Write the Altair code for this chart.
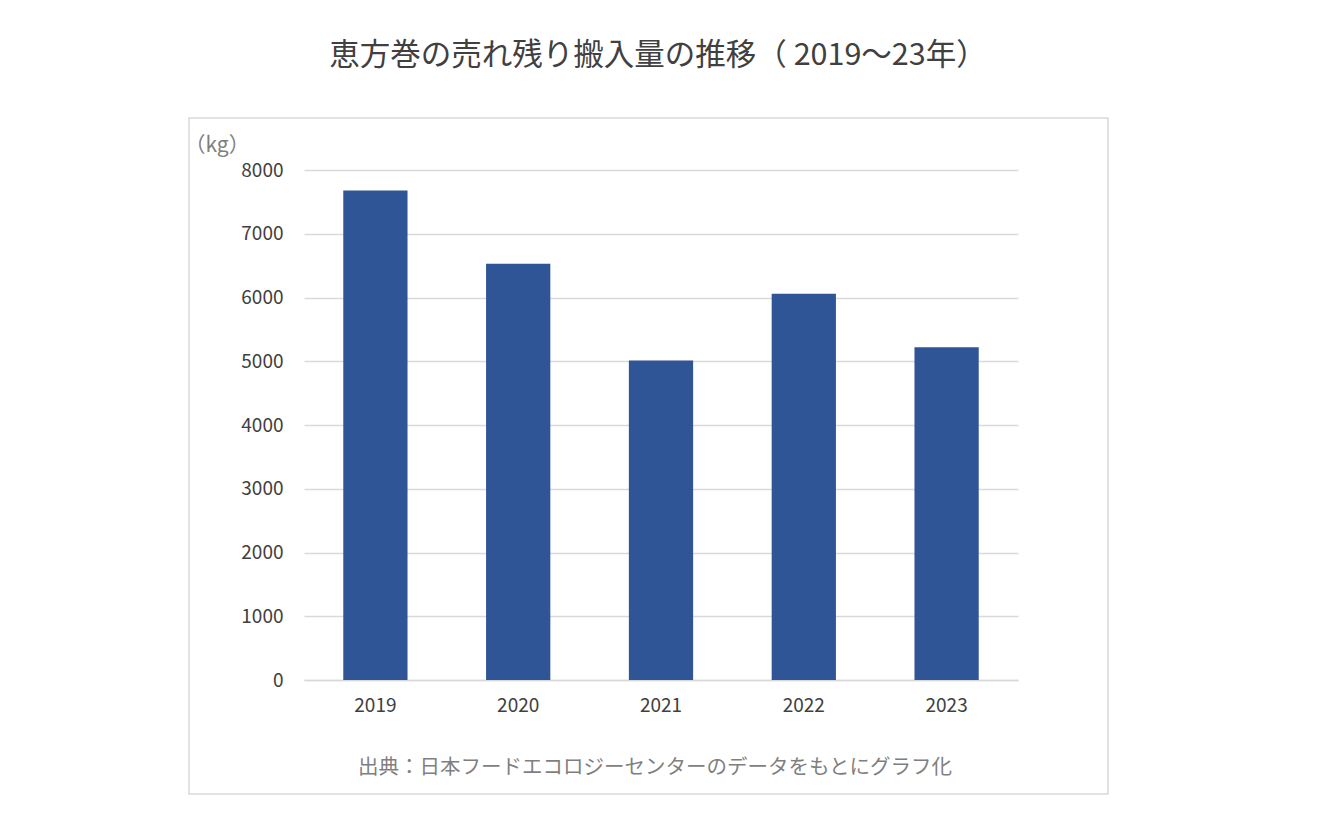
import altair as alt
import pandas as pd

years = ["2019", "2020", "2021", "2022", "2023"]
values = [7680, 6530, 5010, 6060, 5220]
y_ticks = [0, 1000, 2000, 3000, 4000, 5000, 6000, 7000, 8000]
title_text = "恵方巻の売れ残り搬入量の推移（ 2019～23年）"
source_text = "出典：日本フードエコロジーセンターのデータをもとにグラフ化"
unit_text = "（kg）"

FONT = "Noto Sans CJK JP"
df = pd.DataFrame({"year": years, "value": values})

bars = alt.Chart(df).mark_bar(color="#2F5597").encode(
    x=alt.X("year:N", sort=years,
            scale=alt.Scale(paddingInner=0.55, paddingOuter=0.275),
            axis=alt.Axis(title=None, labelAngle=0, ticks=False, domain=True,
                          domainColor="#d9d9d9", domainWidth=1.5,
                          labelFont=FONT, labelFontSize=19, labelColor="#404040",
                          labelPadding=16, grid=False)),
    y=alt.Y("value:Q", scale=alt.Scale(domain=[0, 8000], nice=False),
            axis=alt.Axis(values=y_ticks, format="d", title=unit_text, titleAngle=0,
                          titleAlign="left", titleBaseline="middle",
                          titleX=-120, titleY=-25,
                          titleFont=FONT, titleFontSize=21, titleFontWeight="normal",
                          titleColor="#7f7f7f",
                          ticks=False, domain=False, grid=True,
                          gridColor="#d9d9d9", gridWidth=1.5,
                          labelFont=FONT, labelFontSize=19, labelColor="#404040",
                          labelPadding=21)),
)

one = alt.Data(values=[{}])

border = alt.Chart(one).mark_rect(fillOpacity=0, stroke="#d9d9d9", strokeWidth=1.5).encode(
    x=alt.value(-115), x2=alt.value(804), y=alt.value(-52), y2=alt.value(624)
)

title = alt.Chart(one).mark_text(font=FONT, fontSize=30.5, color="#404040",
                                 align="center", baseline="middle").encode(
    x=alt.value(354), y=alt.value(-114), text=alt.value(title_text)
)

source = alt.Chart(one).mark_text(font=FONT, fontSize=20.5, color="#7f7f7f",
                                  align="center", baseline="middle").encode(
    x=alt.value(351), y=alt.value(598), text=alt.value(source_text)
)

chart = alt.layer(border, bars, title, source).properties(
    width=714, height=510,
    autosize=alt.AutoSizeParams(type="none"),
    padding={"left": 304, "top": 170, "right": 302, "bottom": 150},
    background="white",
).configure_view(stroke=None)

chart.save("out.html", embed_options={"renderer": "svg", "actions": False})
